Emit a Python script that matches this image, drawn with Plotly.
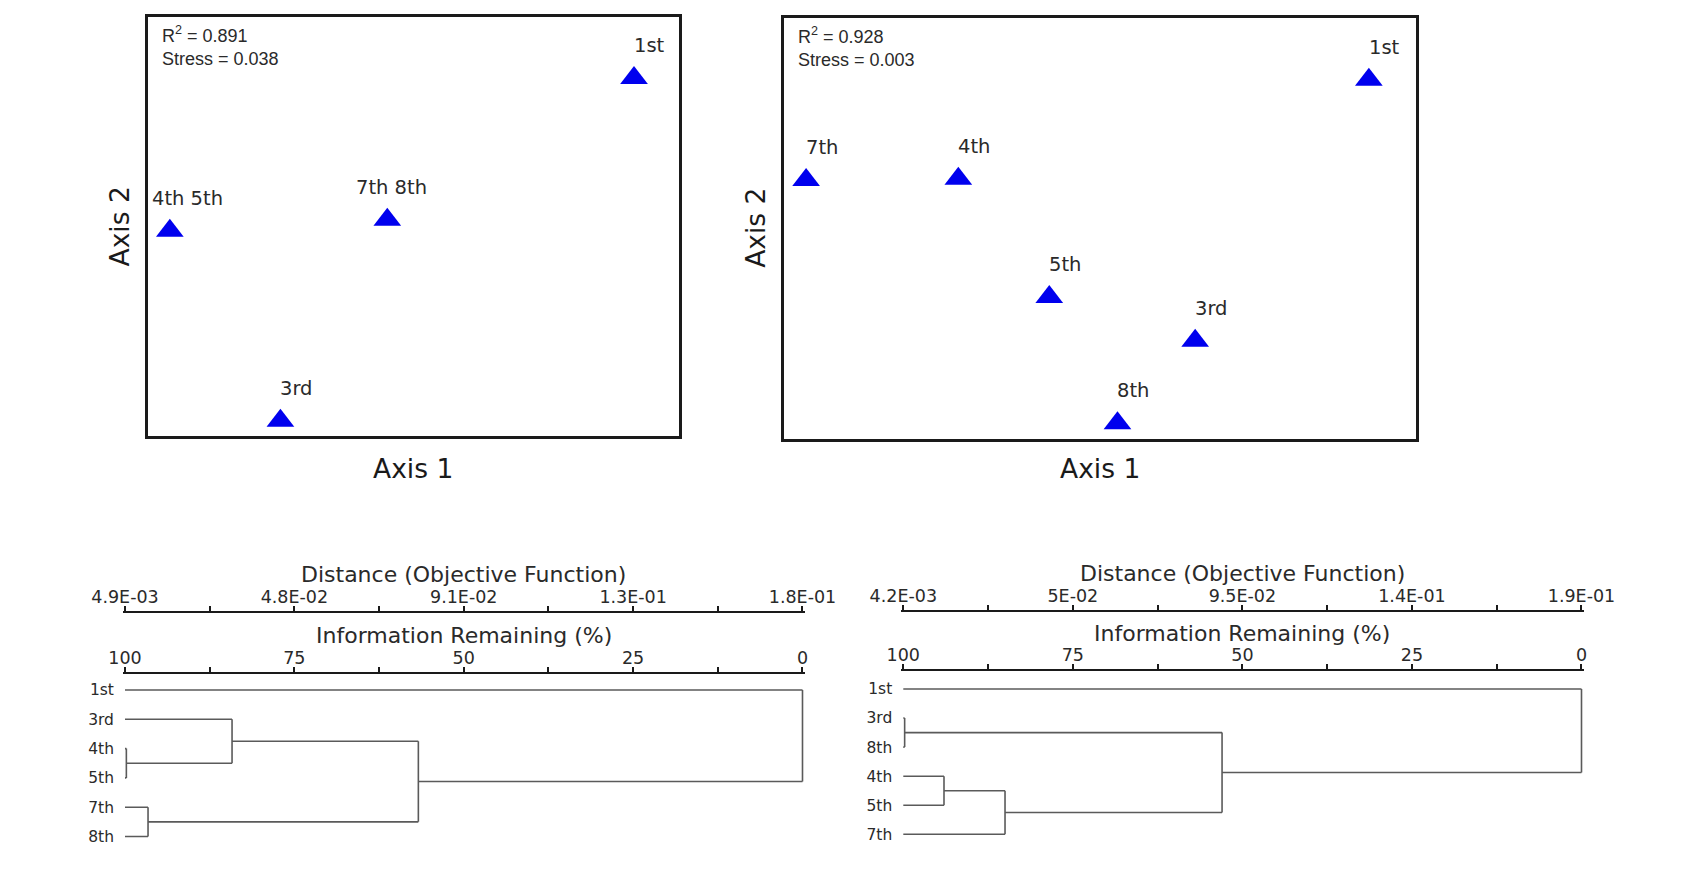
import plotly.graph_objects as go
import numpy as np

W, H = 1690, 883

# ---------------- data ----------------
# NMS ordination, panel A (left)
nms_a_labels = ["1st", "4th 5th", "7th 8th", "3rd"]
nms_a_axis1 = [0.915, 0.042, 0.451, 0.250]
nms_a_axis2 = [0.854, 0.490, 0.516, 0.037]
nms_a_r2 = 0.891
nms_a_stress = 0.038

# NMS ordination, panel B (right)
nms_b_labels = ["1st", "7th", "4th", "5th", "3rd", "8th"]
nms_b_axis1 = [0.926, 0.035, 0.276, 0.420, 0.651, 0.528]
nms_b_axis2 = [0.853, 0.615, 0.618, 0.337, 0.233, 0.037]
nms_b_r2 = 0.928
nms_b_stress = 0.003

# Cluster dendrograms: leaf order and linkage (child i, child j, information remaining %)
dendro_a_leaves = ["1st", "3rd", "4th", "5th", "7th", "8th"]
dendro_a_links = [(2, 3, 99.8), (1, 6, 84.2), (4, 5, 96.6), (7, 8, 56.7), (0, 9, 0.0)]
dendro_a_dist_ticks = ["4.9E-03", "4.8E-02", "9.1E-02", "1.3E-01", "1.8E-01"]
dendro_a_dist_range = [0.0049, 0.18]

dendro_b_leaves = ["1st", "3rd", "8th", "4th", "5th", "7th"]
dendro_b_links = [(1, 2, 99.8), (3, 4, 94.0), (7, 5, 85.0), (6, 8, 53.0), (0, 9, 0.0)]
dendro_b_dist_ticks = ["4.2E-03", "5E-02", "9.5E-02", "1.4E-01", "1.9E-01"]
dendro_b_dist_range = [0.0042, 0.19]

info_ticks = [100, 75, 50, 25, 0]

# ---------------- styling ----------------
BLUE = "#0000EE"
DARK = "#1a1a1a"
TXT = "#2a2a2a"
GREY = "#5a5a5a"
FONT = "DejaVu Sans"
ARIAL = "Liberation Sans, Arial"

label_xshift_a = [-2, -20, -33, -2]
label_xshift_b = [-2, -2, -2, -2, -2, -2]


def px(x):
    return x / W


def py(y):
    return 1 - y / H


fig = go.Figure()

# ---------------- NMS panels ----------------
nms_panels = [
    dict(xa="x", ya="y", lab=nms_a_labels, a1=nms_a_axis1, a2=nms_a_axis2,
         r2=nms_a_r2, st=nms_a_stress, box=(147.5, 679.2, 16.6, 436.4), dx=label_xshift_a),
    dict(xa="x2", ya="y2", lab=nms_b_labels, a1=nms_b_axis1, a2=nms_b_axis2,
         r2=nms_b_r2, st=nms_b_stress, box=(784.0, 1415.6, 18.0, 438.7), dx=label_xshift_b),
]

annotations = []
for i, p in enumerate(nms_panels):
    fig.add_trace(go.Scatter(
        x=p["a1"], y=p["a2"], xaxis=p["xa"], yaxis=p["ya"], mode="markers",
        marker=dict(symbol="triangle-up", size=24, color=BLUE, line=dict(width=0)),
        hoverinfo="skip", cliponaxis=False, showlegend=False,
    ))
    for lab, x, y, dx in zip(p["lab"], p["a1"], p["a2"], p["dx"]):
        annotations.append(dict(
            x=x, y=y, xref=p["xa"], yref=p["ya"], text=lab, showarrow=False,
            xanchor="left", yanchor="middle", xshift=dx, yshift=32.5,
            font=dict(family=FONT, size=19.5, color=TXT),
        ))
    l, r, t, b = p["box"]
    sfx = "" if i == 0 else "2"
    ax_common = dict(range=[0, 1], showline=True, mirror=True, linewidth=2.6, linecolor=DARK,
                     showticklabels=False, ticks="", showgrid=False, zeroline=False,
                     fixedrange=True, automargin=False)
    fig.layout["xaxis" + sfx] = dict(domain=[px(l), px(r)], anchor="y" + sfx, **ax_common)
    fig.layout["yaxis" + sfx] = dict(domain=[py(b), py(t)], anchor="x" + sfx, **ax_common)
    # stats text
    annotations.append(dict(
        x=px(l + 12), y=py(t + 29), xref="paper", yref="paper", xanchor="left", yanchor="middle",
        align="left", showarrow=False,
        text=f"R<sup>2</sup> = {p['r2']:.3f}<br>Stress = {p['st']:.3f}",
        font=dict(family=ARIAL, size=18, color=TXT),
    ))
    cx = (l + r) / 2
    annotations.append(dict(x=px(cx), y=py(468), xref="paper", yref="paper", text="Axis 1",
                            showarrow=False, xanchor="center", yanchor="middle",
                            font=dict(family=FONT, size=26.5, color=DARK)))
    annotations.append(dict(x=px(l - 28.5), y=py((t + b) / 2), xref="paper", yref="paper", text="Axis 2",
                            showarrow=False, xanchor="center", yanchor="middle", textangle=-90,
                            font=dict(family=FONT, size=26.5, color=DARK)))


# ---------------- dendrograms ----------------
def dendro_segments(leaves, links):
    n = len(leaves)
    ys = {i: float(i) for i in range(n)}
    xs = {i: 100.0 for i in range(n)}
    sx, sy = [], []
    for k, (a, b, h) in enumerate(links):
        for c in (a, b):
            sx += [xs[c], h, None]
            sy += [ys[c], ys[c], None]
        sx += [h, h, None]
        sy += [ys[a], ys[b], None]
        node = n + k
        xs[node] = h
        ys[node] = (ys[a] + ys[b]) / 2
    return sx, sy


dendro_panels = [
    dict(leaves=dendro_a_leaves, links=dendro_a_links, dticks=dendro_a_dist_ticks, drange=dendro_a_dist_range,
         ax0=125.0, ax1=802.5, info_y=672.7, dist_y=612.3, leaf0=690.0, leaf5=836.5,
         xi="x3", xd="x4", yl="y3"),
    dict(leaves=dendro_b_leaves, links=dendro_b_links, dticks=dendro_b_dist_ticks, drange=dendro_b_dist_range,
         ax0=903.3, ax1=1581.5, info_y=670.0, dist_y=610.7, leaf0=689.0, leaf5=834.3,
         xi="x5", xd="x6", yl="y4"),
]

pad = 0.3  # % of range added at both ends so edge lines are not clipped
for p in dendro_panels:
    sx, sy = dendro_segments(p["leaves"], p["links"])
    fig.add_trace(go.Scatter(x=sx, y=sy, xaxis=p["xi"], yaxis=p["yl"], mode="lines",
                             line=dict(color=GREY, width=1.6), hoverinfo="skip", showlegend=False))
    d0, d1 = p["drange"]
    fig.add_trace(go.Scatter(x=[d0, d1], y=[0, 0], xaxis=p["xd"], yaxis=p["yl"], mode="markers",
                             marker=dict(opacity=0), hoverinfo="skip", showlegend=False))
    ppu = (p["ax1"] - p["ax0"]) / 100.0
    dom = [px(p["ax0"] - pad * ppu), px(p["ax1"] + pad * ppu)]
    n = len(p["leaves"])
    spacing = (p["leaf5"] - p["leaf0"]) / (n - 1)
    top_px, bot_px = p["leaf0"] - 8, p["leaf5"] + 10
    yr = [(n - 1) + (bot_px - p["leaf5"]) / spacing, -(p["leaf0"] - top_px) / spacing]

    tick_style = dict(ticks="outside", ticklen=5, tickwidth=2, tickcolor=DARK)
    axis_style = dict(showline=True, linewidth=2, linecolor=DARK, showgrid=False, zeroline=False,
                      side="top", tickfont=dict(family=FONT, size=17.5, color=TXT), fixedrange=True,
                      automargin=False, ticklabelstandoff=-4, **tick_style)
    info_major = list(np.linspace(100, 0, 5))
    info_minor = list((np.array(info_major[:-1]) + np.array(info_major[1:])) / 2)
    fig.layout["xaxis" + p["xi"][1:]] = dict(
        domain=dom, anchor="free", position=py(p["info_y"]), range=[100 + pad, -pad],
        tickvals=info_major, ticktext=[str(v) for v in info_ticks],
        minor=dict(tickvals=info_minor, showgrid=False, **tick_style), **axis_style)
    d_major = list(np.linspace(d0, d1, 5))
    d_minor = list((np.array(d_major[:-1]) + np.array(d_major[1:])) / 2)
    dpad = pad / 100.0 * (d1 - d0)
    fig.layout["xaxis" + p["xd"][1:]] = dict(
        domain=dom, anchor="free", position=py(p["dist_y"]), overlaying=p["xi"],
        range=[d0 - dpad, d1 + dpad], tickvals=d_major, ticktext=p["dticks"],
        minor=dict(tickvals=d_minor, showgrid=False, **tick_style), **axis_style)
    fig.layout["yaxis" + p["yl"][1:]] = dict(domain=[py(bot_px), py(top_px)], anchor=p["xi"], range=yr,
                                             tickvals=list(range(n)), ticktext=p["leaves"], ticks="",
                                             showline=False, showgrid=False, zeroline=False,
                                             ticklabelstandoff=8, fixedrange=True, automargin=False,
                                             tickfont=dict(family=FONT, size=15.5, color=TXT))
    cx = (p["ax0"] + p["ax1"]) / 2
    annotations.append(dict(x=px(cx), y=py(p["dist_y"] - 37.5), xref="paper", yref="paper",
                            text="Distance (Objective Function)", showarrow=False,
                            xanchor="center", yanchor="middle",
                            font=dict(family=FONT, size=22, color=TXT)))
    annotations.append(dict(x=px(cx), y=py(p["info_y"] - 37), xref="paper", yref="paper",
                            text="Information Remaining (%)", showarrow=False,
                            xanchor="center", yanchor="middle",
                            font=dict(family=FONT, size=22, color=TXT)))

fig.update_layout(
    template="none",
    width=W, height=H, margin=dict(l=0, r=0, t=0, b=0, autoexpand=False),
    paper_bgcolor="white", plot_bgcolor="white", showlegend=False,
    annotations=annotations,
)

fig.write_html("out.html", config={"displayModeBar": False})
